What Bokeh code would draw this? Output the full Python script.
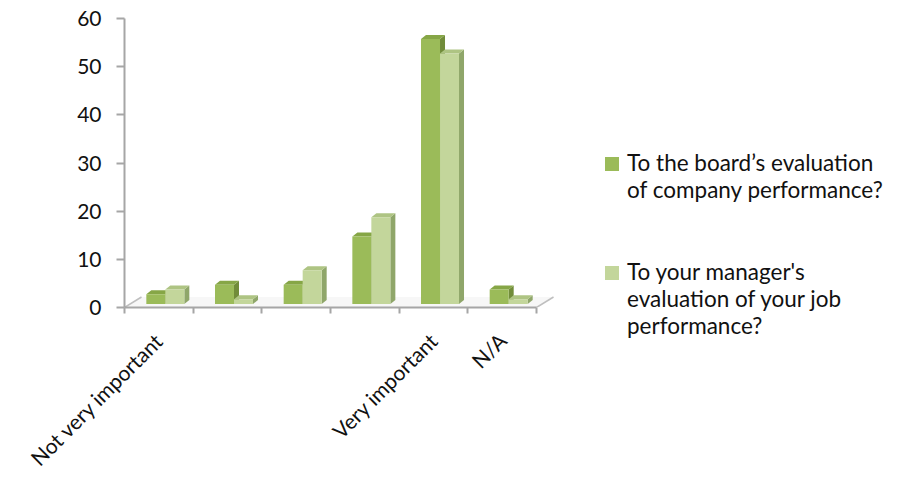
from math import pi
from html import escape

from bokeh.plotting import figure
from bokeh.layouts import row
from bokeh.models import Range1d, FixedTicker, Div
from bokeh.embed import file_html
from bokeh.resources import INLINE

# --- data -------------------------------------------------------------
categories = ["Not very important", "", "", "", "Very important", "N/A"]
board_eval = [2, 4, 4, 14, 55, 3]
manager_eval = [3, 1, 7, 18, 52, 1]
series_names = [
    "To the board\u2019s evaluation\nof company performance?",
    "To your manager's\nevaluation of your job\nperformance?",
]
y_ticks = [0, 10, 20, 30, 40, 50, 60]

# --- layout ----------------------------------------------------------
W, H = 913, 488
CHART_W = 570                        # chart on the left, legend on the right
LEFT, TOP, BOTTOM = 124, 18, 181
FRAME_W = CHART_W - LEFT
FRAME_H = H - TOP - BOTTOM
CAT_PX = 68.67                       # width of one category on screen
X_END = FRAME_W / CAT_PX
Y_MAX = 60
PX_X = X_END / FRAME_W               # one screen pixel in data units
PX_Y = Y_MAX / FRAME_H

# pseudo-3D look
FLOOR_DX, FLOOR_DY = 17 * PX_X, 10.5 * PX_Y
DEPTH_DX, DEPTH_DY = 5 * PX_X, 4 * PX_Y
LIFT = 3.5 * PX_Y
SHIFT = 6.5 * PX_X
BAR_W = 19 * PX_X

DARK = dict(front="#9bbb59", top="#86a646", side="#718c3a")
LIGHT = dict(front="#c3d69b", top="#aec483", side="#8fa66a")
AXIS = "#a6a6a6"
FONT = "Lato"
TEXT = "#111111"

p = figure(width=CHART_W, height=H, output_backend="svg", toolbar_location=None,
           x_range=Range1d(0, X_END), y_range=Range1d(0, Y_MAX),
           min_border_left=LEFT, min_border_right=0,
           min_border_top=TOP, min_border_bottom=BOTTOM)
p.outline_line_color = None
p.xgrid.visible = False
p.ygrid.visible = False
p.background_fill_color = "white"

n = len(categories)

# floor of the 3D plot area
p.patch([0, n, n + FLOOR_DX, FLOOR_DX], [0, 0, FLOOR_DY, FLOOR_DY],
        fill_color="#f7f7f7", line_color=None)
p.segment(x0=[0, n], y0=[0, 0], x1=[FLOOR_DX, n + FLOOR_DX],
          y1=[FLOOR_DY, FLOOR_DY], line_color="#bfbfbf", line_width=1.5)


def bar_3d(x0, x1, values, colors):
    bottom = [LIFT] * len(values)
    top = [LIFT + v for v in values]
    tops_x, tops_y, sides_x, sides_y = [], [], [], []
    for a, b, t, btm in zip(x0, x1, top, bottom):
        tops_x.append([a, b, b + DEPTH_DX, a + DEPTH_DX])
        tops_y.append([t, t, t + DEPTH_DY, t + DEPTH_DY])
        sides_x.append([b, b, b + DEPTH_DX, b + DEPTH_DX])
        sides_y.append([btm, t, t + DEPTH_DY, btm + DEPTH_DY])
    p.patches(sides_x, sides_y, fill_color=colors["side"], line_color=None)
    p.patches(tops_x, tops_y, fill_color=colors["top"], line_color=None)
    return p.quad(left=x0, right=x1, bottom=bottom, top=top,
                  fill_color=colors["front"], line_color=None)


centres = [i + 0.5 + SHIFT for i in range(n)]
bar_3d([c - BAR_W for c in centres], centres, board_eval, DARK)
bar_3d(centres, [c + BAR_W for c in centres], manager_eval, LIGHT)

# x axis: labels at category centres, ticks between categories
xa = p.xaxis[0]
xa.bounds = (0, n)
xa.ticker = FixedTicker(ticks=[i + 0.5 for i in range(n)],
                        minor_ticks=list(range(n + 1)))
xa.major_label_overrides = {i + 0.5: c for i, c in enumerate(categories)}
xa.major_tick_line_color = None
xa.major_tick_out = 6
xa.minor_tick_in = 0
xa.minor_tick_out = 6
xa.minor_tick_line_color = AXIS
xa.minor_tick_line_width = 2
xa.axis_line_color = AXIS
xa.axis_line_width = 2
xa.major_label_orientation = pi / 4
xa.major_label_standoff = 23
xa.major_label_text_font = FONT
xa.major_label_text_font_size = "21px"
xa.major_label_text_color = TEXT

ya = p.yaxis[0]
ya.ticker = FixedTicker(ticks=y_ticks, minor_ticks=[])
ya.major_tick_in = 0
ya.major_tick_out = 8
ya.major_tick_line_color = AXIS
ya.major_tick_line_width = 2
ya.axis_line_color = AXIS
ya.axis_line_width = 2
ya.major_label_standoff = 15
ya.major_label_text_font = FONT
ya.major_label_text_font_size = "21px"
ya.major_label_text_color = TEXT

# --- legend: swatch + wrapped series name, placed right of the chart ----
LEG_W = W - CHART_W
FONT_PX = 22.5
LINE_PX = 27
BASELINE_IN_LINE = (LINE_PX - 1.2 * FONT_PX) / 2 + 0.987 * FONT_PX
first_baseline = [171.5, 280.5]      # screen row of each entry's first line
swatch_left, text_left = 605 - CHART_W, 627 - CHART_W

parts = []
for name, base, col in zip(series_names, first_baseline,
                           [DARK["front"], LIGHT["front"]]):
    parts.append(
        f'<div style="position:absolute;left:{swatch_left}px;top:{base - 15}px;'
        f'width:14px;height:14px;background:{col};"></div>')
    lines = "<br>".join(escape(s, quote=False) for s in name.split("\n"))
    parts.append(
        f'<div style="position:absolute;left:{text_left}px;'
        f'top:{base - BASELINE_IN_LINE:.2f}px;line-height:{LINE_PX}px;'
        f'white-space:nowrap;">{lines}</div>')

legend_html = (
    f'<div style="position:relative;width:{LEG_W}px;height:{H}px;'
    f"font-family:'{FONT}';font-size:{FONT_PX}px;color:{TEXT};\">"
    + "".join(parts) + "</div>")
legend = Div(text=legend_html, width=LEG_W, height=H, margin=0)

layout = row(p, legend, spacing=0)
open("out.html", "w").write(file_html(layout, INLINE))
